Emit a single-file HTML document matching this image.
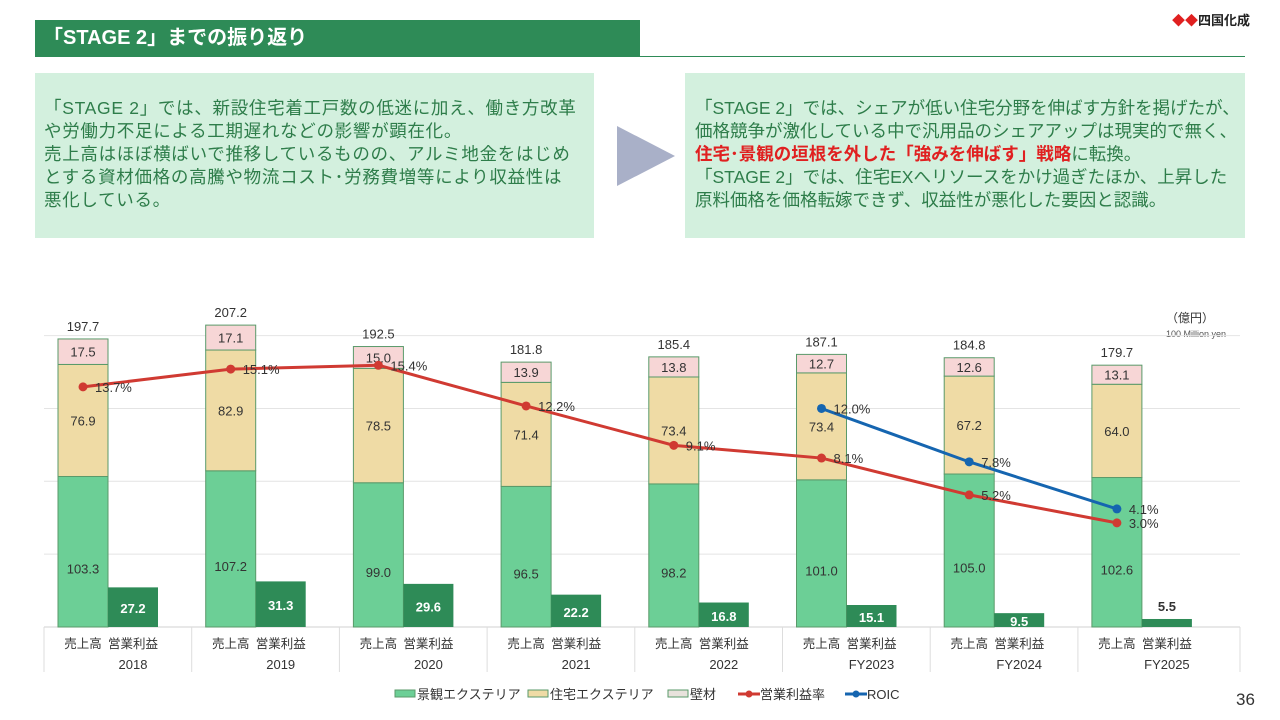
<!DOCTYPE html>
<html><head><meta charset="utf-8"><style>
body{margin:0;width:1280px;height:720px;background:#fff;font-family:"Liberation Sans","Noto Sans CJK JP",sans-serif;position:relative;overflow:hidden}
.abs{position:absolute}
.box{background:#d3f0de;color:#2e7d4a;font-size:17.5px;line-height:23px}
</style></head><body>
<div class="abs" style="left:35px;top:20px;width:605px;height:37px;background:#2e8b57;color:#fff;font-size:20px;font-weight:bold;line-height:37px;padding-left:8px;box-sizing:border-box">「STAGE 2」までの振り返り</div>
<div class="abs" style="left:640px;top:56px;width:605px;height:1px;background:#2e8b57"></div>
<div class="abs" style="left:1172px;top:10px;font-size:13px;font-weight:bold;color:#222"><span style="color:#e02020">◆◆</span>四国化成</div>
<div class="abs box" style="left:35px;top:73px;width:559px;height:165px;padding:24px 0 0 9px;box-sizing:border-box;letter-spacing:0.7px">「STAGE 2」では、新設住宅着工戸数の低迷に加え、働き方改革<br>や労働力不足による工期遅れなどの影響が顕在化。<br>売上高はほぼ横ばいで推移しているものの、アルミ地金をはじめ<br>とする資材価格の高騰や物流コスト･労務費増等により収益性は<br>悪化している。</div>
<div class="abs" style="left:617px;top:126px;width:0;height:0;border-top:30px solid transparent;border-bottom:30px solid transparent;border-left:58px solid #a9b0c8"></div>
<div class="abs box" style="left:685px;top:73px;width:560px;height:165px;padding:24px 0 0 10px;box-sizing:border-box">「STAGE 2」では、シェアが低い住宅分野を伸ばす方針を掲げたが、<br>価格競争が激化している中で汎用品のシェアアップは現実的で無く、<br><b style="color:#e02020">住宅･景観の垣根を外した「強みを伸ばす」戦略</b>に転換。<br>「STAGE 2」では、住宅EXへリソースをかけ過ぎたほか、上昇した<br>原料価格を価格転嫁できず、収益性が悪化した要因と認識。</div>
<div class="abs" style="left:1166px;top:309px;font-size:12px;color:#333">（億円）<br><span style="font-size:9px;color:#555">100 Million yen</span></div>
<div class="abs" style="left:1236px;top:690px;font-size:17px;color:#333">36</div>
<svg class="abs" style="left:0;top:0" width="1280" height="720" id="chart"></svg>
<script>
const years=["2018","2019","2020","2021","2022","FY2023","FY2024","FY2025"];
const keikan=[103.3,107.2,99.0,96.5,98.2,101.0,105.0,102.6];
const jutaku=[76.9,82.9,78.5,71.4,73.4,73.4,67.2,64.0];
const hekizai=[17.5,17.1,15.0,13.9,13.8,12.7,12.6,13.1];
const totals=[197.7,207.2,192.5,181.8,185.4,187.1,184.8,179.7];
const profit=[27.2,31.3,29.6,22.2,16.8,15.1,9.5,5.5];
const margin=[13.7,15.1,15.4,12.2,9.1,8.1,5.2,3.0];
const roic=[null,null,null,null,null,12.0,7.8,4.1];
const gridVals=[50,100,150,200];
const svg=document.getElementById('chart');
const NS='http://www.w3.org/2000/svg';
const base=627,k=1.457,x0=58,step=147.7,bw=50;
const y=v=>base-v*k, yr=r=>561-12.71*r, gx=i=>x0+i*step;
function mk(t,a,txt){const e=document.createElementNS(NS,t);for(const p in a)e.setAttribute(p,a[p]);if(txt!=null)e.textContent=txt;svg.appendChild(e);return e;}
gridVals.forEach(v=>{const e=mk('line',{x1:44,x2:1240,y1:y(v),y2:y(v),stroke:'#e4e4e4'});

});
mk('line',{x1:44,x2:1240,y1:base,y2:base,stroke:'#d0d0d0'});
for(let i=0;i<8;i++){mk('line',{x1:44+i*step,x2:44+i*step,y1:base,y2:672,stroke:'#ddd'});}
mk('line',{x1:1240,x2:1240,y1:base,y2:672,stroke:'#ddd'});
const T={'font-family':'Liberation Sans, Noto Sans CJK JP, sans-serif','text-anchor':'middle'};
years.forEach((yl,i)=>{
 const x=gx(i),cx=x+bw/2;
 let b=0;
 [[keikan,'#6ccf96'],[jutaku,'#efdba5'],[hekizai,'#f7d6d6']].forEach(([arr,c],j)=>{
  const v=arr[i];const r=mk('rect',{x:x,y:y(b+v),width:bw,height:v*k,fill:c,stroke:'#5a9a6a','stroke-width':1});
  
  
  const ly=j==0?y(b+v/2)+22:y(b+v/2)+5;
  mk('text',Object.assign({x:cx,y:ly,'font-size':13,fill:'#333'},T),v.toFixed(1));
  b+=v;});
 mk('text',Object.assign({x:cx,y:y(totals[i])-8,'font-size':13,fill:'#333'},T),totals[i].toFixed(1));
 const p=mk('rect',{x:x+bw,y:y(profit[i]),width:bw,height:profit[i]*k,fill:'#2e8b57'});
 
 
 const inside=profit[i]>8;
 mk('text',Object.assign({x:x+bw*1.5,y:inside?y(profit[i]/2)+6:y(profit[i])-8,'font-size':13,'font-weight':'bold',fill:inside?'#fff':'#333'},T),profit[i].toFixed(1));
 mk('text',Object.assign({x:cx,y:648,'font-size':12.5,fill:'#333'},T),'売上高');
 mk('text',Object.assign({x:x+bw*1.5,y:648,'font-size':12.5,fill:'#333'},T),'営業利益');
 mk('text',Object.assign({x:x+75,y:669,'font-size':13,fill:'#333'},T),yl);
});
function line(arr,c,nm){
 let pts=[];arr.forEach((v,i)=>{if(v!=null)pts.push([gx(i)+bw/2,yr(v),v]);});
 const pl=mk('polyline',{points:pts.map(p=>p[0]+','+p[1]).join(' '),fill:'none',stroke:c,'stroke-width':3});
 
 
 pts.forEach(p=>{mk('circle',{cx:p[0],cy:p[1],r:4.5,fill:c});
  mk('text',{x:p[0]+12,y:p[1]+5,'font-size':13,fill:'#333','font-family':'Liberation Sans, sans-serif'},p[2].toFixed(1)+'%');});
}
line(margin,'#d03a32','margin-line');
line(roic,'#1565b0','roic-line');
const leg=[['景観エクステリア','#6ccf96','rect'],['住宅エクステリア','#efdba5','rect'],['壁材','#e8e2dc','rect'],['営業利益率','#d03a32','line'],['ROIC','#1565b0','line']];
const lx=[395,528,668,738,845];
leg.forEach((l,i)=>{const x=lx[i];
 if(l[2]=='rect')mk('rect',{x:x,y:690,width:20,height:7,fill:l[1],stroke:'#5a9a6a'});
 else{mk('line',{x1:x,x2:x+22,y1:694,y2:694,stroke:l[1],'stroke-width':3});mk('circle',{cx:x+11,cy:694,r:3.5,fill:l[1]});}
 const t=mk('text',{x:x+22,y:699,'font-size':13,fill:'#333','font-family':'Liberation Sans, Noto Sans CJK JP, sans-serif'},l[0]);
 
 
});
</script>
</body></html>
